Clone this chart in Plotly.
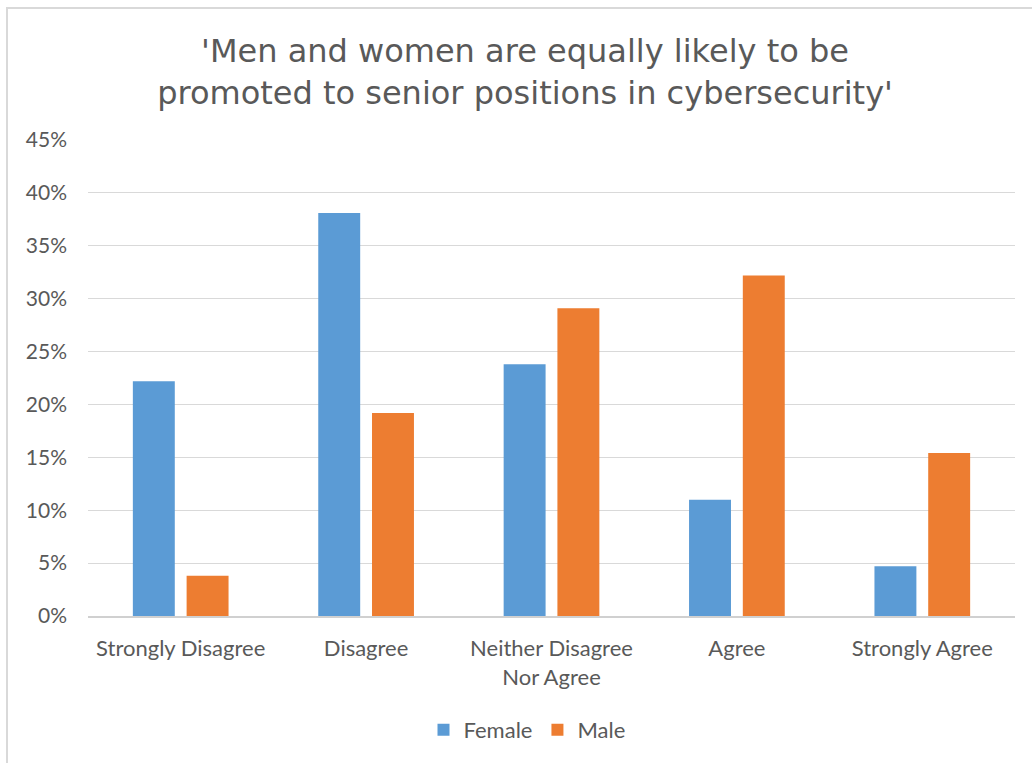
import plotly.graph_objects as go

categories = ["Strongly Disagree", "Disagree", "Neither Disagree<br>Nor Agree", "Agree", "Strongly Agree"]
female = [0.222, 0.381, 0.238, 0.110, 0.047]
male = [0.038, 0.192, 0.291, 0.322, 0.154]
y_ticks = [0, 0.05, 0.10, 0.15, 0.20, 0.25, 0.30, 0.35, 0.40, 0.45]
y_tick_labels = ["0%", "5%", "10%", "15%", "20%", "25%", "30%", "35%", "40%", "45%"]

W, H = 1032, 763
ml, mr, mt, mb = 88, 17, 140, 147
pw, ph = W - ml - mr, H - mt - mb

FONT = "Lato"
TITLE_FONT = "DejaVu Sans"
TXT = "#595959"

fig = go.Figure()
fig.add_trace(go.Bar(name="Female", x=categories, y=female, marker_color="#5B9BD5", marker_line_width=0))
fig.add_trace(go.Bar(name="Male", x=categories, y=male, marker_color="#ED7D31", marker_line_width=0))

def px_x(p):
    return (p - ml) / pw

def px_y(p):
    return (H - mb - p) / ph

fig.add_shape(type="rect", xref="paper", yref="paper",
              x0=px_x(7), x1=px_x(1040), y0=px_y(8), y1=px_y(770),
              line=dict(color="#d9d9d9", width=2), fillcolor="rgba(0,0,0,0)", layer="below")

fig.update_layout(
    width=W, height=H,
    margin=dict(l=ml, r=mr, t=mt, b=mb),
    paper_bgcolor="white", plot_bgcolor="white",
    barmode="group", bargap=0.42, bargroupgap=0.22,
    title=dict(text="'Men and women are equally likely to be<br>promoted to senior positions in cybersecurity'",
               x=525 / W, xref="container", xanchor="center", y=1 - 62 / H, yanchor="middle",
               font=dict(family=TITLE_FONT, size=32, color=TXT)),
    font=dict(family=FONT, color=TXT),
    legend=dict(orientation="h", x=px_x(527), xanchor="center", y=px_y(730), yanchor="middle",
                font=dict(family=FONT, size=22, color=TXT), traceorder="normal",
                itemwidth=30),
    showlegend=True,
)
fig.update_xaxes(showline=True, linecolor="#d0d0d0", linewidth=1.5, showgrid=False,
                 tickfont=dict(family=FONT, size=22, color=TXT), ticks="", ticklabelstandoff=12)
fig.update_yaxes(range=[0, 0.45], tickvals=y_ticks, ticktext=y_tick_labels,
                 showgrid=True, gridcolor="#d9d9d9", gridwidth=1, zeroline=False, showline=False,
                 tickfont=dict(family=FONT, size=21, color=TXT), ticks="", ticklabelstandoff=20)

fig.write_html("out.html")
